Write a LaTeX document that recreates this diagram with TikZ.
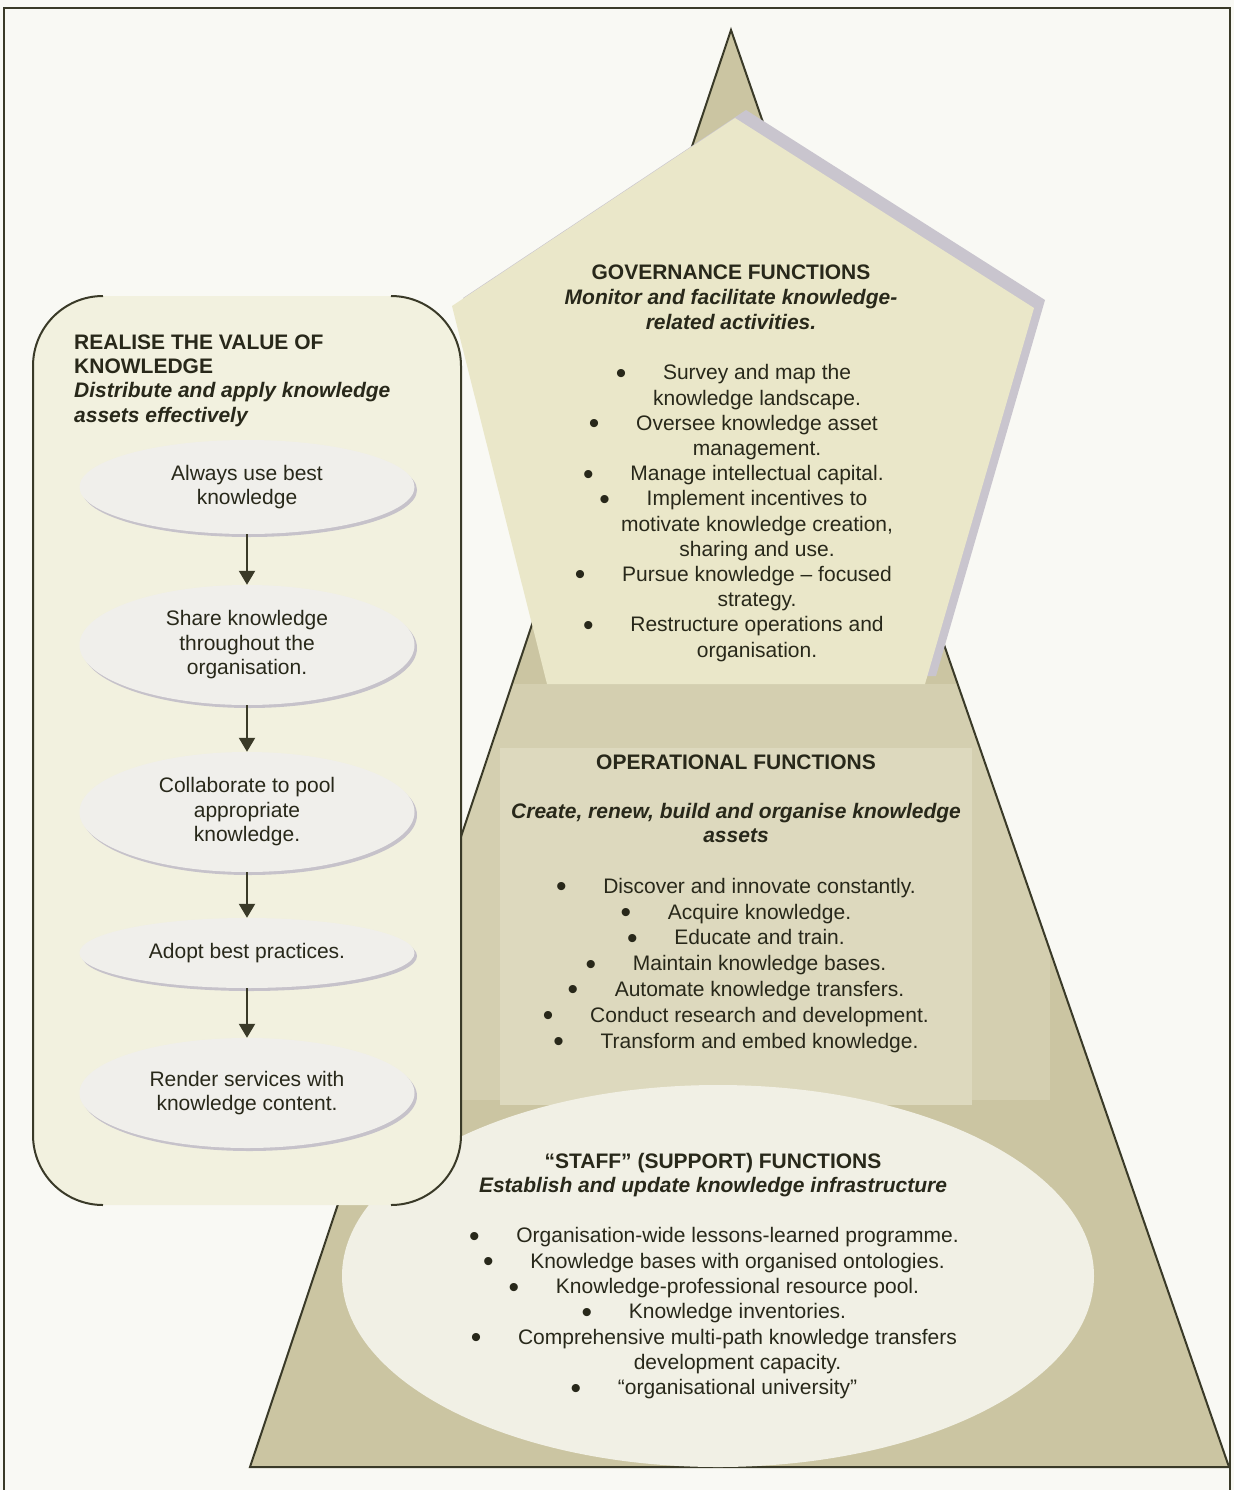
\documentclass[tikz,border=0pt]{standalone}
\usepackage{fontspec}
\setmainfont{Liberation Sans}
\usetikzlibrary{arrows.meta,shadows,shapes.geometric}

\definecolor{paper}{HTML}{F9F9F4}
\definecolor{ink}{HTML}{28281A}
\definecolor{rule}{HTML}{3A3A28}
\definecolor{khaki}{HTML}{CBC5A2}
\definecolor{khakimid}{HTML}{D4CFB0}
\definecolor{opfill}{HTML}{DDD9BE}
\definecolor{pentfill}{HTML}{EAE7C9}
\definecolor{pentshade}{HTML}{C9C5CE}
\definecolor{boxfill}{HTML}{F2F1DF}
\definecolor{stepfill}{HTML}{F0EFEB}
\definecolor{stepshade}{HTML}{C6C2CA}
\definecolor{stafffill}{HTML}{F1F0E5}

% bullet hanging to the left of a centred line
\newcommand\bul{\makebox[0pt][r]{\raisebox{-3.5pt}{\fontsize{30}{30}\selectfont •}\hspace{36.75pt}}}
\newcommand\bi[1]{\textbf{\textit{#1}}}

\begin{document}
\begin{tikzpicture}[x=1pt,y=-1pt,
  txt/.style={inner sep=0pt,text=ink,align=center,font=\fontsize{21}{#1}\selectfont},
  txt/.default=24.5,
  stepell/.style={ellipse,fill=stepfill,inner sep=0pt,minimum width=335pt,
    text=ink,align=center,font=\fontsize{21}{24.5}\selectfont,
    drop shadow={shadow xshift=2.5pt,shadow yshift=-3pt,fill=stepshade,opacity=1}},
  flow/.style={draw=rule,line width=2.2pt,-{Triangle[width=16pt,length=14pt]}},
  outline/.style={draw=rule,line width=2pt},
]
\useasboundingbox (0,0) rectangle (1234,1490);
\fill[paper] (0,0) rectangle (1234,1490);
\draw[rule,line width=2.5pt] (4,1500) -- (4,8) -- (1230,8) -- (1230,1500);

% pyramid
\coordinate (apex) at (731,30);
\coordinate (bl) at (250,1467);
\coordinate (br) at (1229,1467);
\fill[khaki] (apex) -- (br) -- (bl) -- cycle;
\begin{scope}
  \clip (apex) -- (br) -- (bl) -- cycle;
  \fill[khakimid] (430,684) rectangle (1050,1100);
  \fill[opfill] (500,748) rectangle (972,1105);
\end{scope}
\draw[outline,line join=miter] (apex) -- (br) -- (bl) -- cycle;

% support layer
\node[ellipse,fill=stafffill,inner sep=0pt,minimum width=752pt,minimum height=382pt] (staff) at (718,1276) {};

% governance pentagon
\fill[pentshade,shift={(11,-8)}] (735,118) -- (1034,308) -- (925,684) -- (547,684) -- (452,306) -- cycle;
\fill[pentfill] (735,118) -- (1034,308) -- (925,684) -- (547,684) -- (452,306) -- cycle;

% value panel
\fill[boxfill,rounded corners=70pt] (33,296) rectangle (461,1205);
\draw[outline,rounded corners=70pt] (103,296) -- (33,296) -- (33,1205) -- (103,1205);
\draw[outline,rounded corners=70pt] (391,296) -- (461,296) -- (461,1205) -- (391,1205);

\node[txt=24.3,anchor=north west,align=left] (boxhead) at (74,332)
  {\strut\textbf{REALISE THE VALUE OF}\\\textbf{KNOWLEDGE}\\\bi{Distribute and apply knowledge}\\\bi{assets effectively}};

\node[stepell,minimum height=94pt] (s1) at (247,487) {Always use best\\knowledge};
\node[stepell,minimum height=120pt] (s2) at (247,645) {Share knowledge\\throughout the\\organisation.};
\node[stepell,minimum height=120pt] (s3) at (247,812) {Collaborate to pool\\appropriate\\knowledge.};
\node[stepell,minimum height=70pt] (s4) at (247,953) {Adopt best practices.};
\node[stepell,minimum height=110pt] (s5) at (247,1093) {Render services with\\knowledge content.};
\draw[flow] (s1) -- (s2);
\draw[flow] (s2) -- (s3);
\draw[flow] (s3) -- (s4);
\draw[flow] (s4) -- (s5);

% governance text
\node[txt=25,anchor=north] (govhead) at (731,262)
  {\strut\textbf{GOVERNANCE FUNCTIONS}\\\bi{Monitor and facilitate knowledge-}\\\bi{related activities.}};
\node[txt=25.2,anchor=north] (govlist) at (757,362)
  {\strut\bul Survey and map the\\knowledge landscape.\\\bul Oversee knowledge asset\\management.\\\bul Manage intellectual capital.\\\bul Implement incentives to\\motivate knowledge creation,\\sharing and use.\\\bul Pursue knowledge – focused\\strategy.\\\bul Restructure operations and\\organisation.};

% operational text
\node[txt=24.5,anchor=north] (ophead) at (736,752)
  {\strut\textbf{OPERATIONAL FUNCTIONS}\\[24.5pt]\bi{Create, renew, build and organise knowledge}\\\bi{assets}};
\node[txt=25.8,anchor=north] (oplist) at (759.5,875)
  {\strut\bul Discover and innovate constantly.\\\bul Acquire knowledge.\\\bul Educate and train.\\\bul Maintain knowledge bases.\\\bul Automate knowledge transfers.\\\bul Conduct research and development.\\\bul Transform and embed knowledge.};

% support text
\node[txt=24,anchor=north] (staffhead) at (713,1151)
  {\strut\textbf{“STAFF” (SUPPORT) FUNCTIONS}\\\bi{Establish and update knowledge infrastructure}};
\node[txt=25.3,anchor=north] (stafflist) at (737.5,1225)
  {\strut\bul Organisation-wide lessons-learned programme.\\\bul Knowledge bases with organised ontologies.\\\bul Knowledge-professional resource pool.\\\bul Knowledge inventories.\\\bul Comprehensive multi-path knowledge transfers\\development capacity.\\\bul “organisational university”};
\end{tikzpicture}
\end{document}
